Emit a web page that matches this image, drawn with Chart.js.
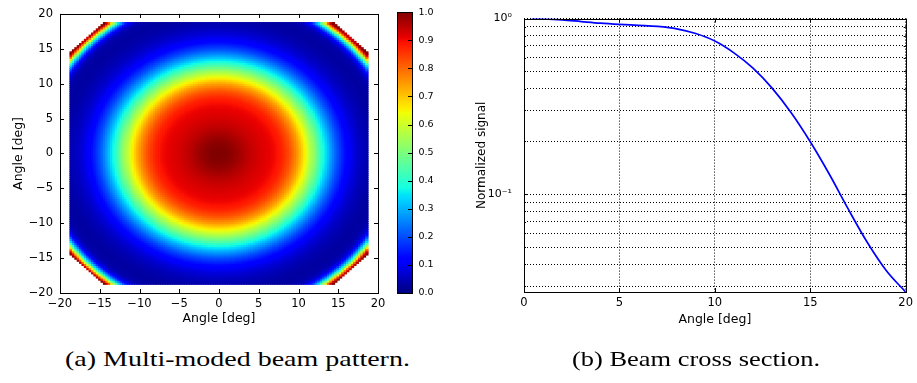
<!DOCTYPE html>
<html>
<head>
<meta charset="utf-8">
<script src="https://cdn.jsdelivr.net/npm/chart.js@4.4.0/dist/chart.umd.min.js"></script>
<style>
body { margin: 0; background: #fff; width: 917px; height: 383px; position: relative; overflow: hidden; }
.box { position: absolute; }
.cap { position: absolute; top: 349px; font-family: "Liberation Serif", serif; font-size: 21px; line-height: 1; white-space: nowrap; transform-origin: 0 0; color: #000; }
</style>
</head>
<body>
<div class="box" style="left:0;top:0;width:390px;height:340px"><canvas id="beamMap"></canvas></div>
<div class="box" style="left:380px;top:0;width:70px;height:340px"><canvas id="colorBar"></canvas></div>
<div class="box" style="left:440px;top:0;width:477px;height:340px"><canvas id="beamCut"></canvas></div>
<div class="cap" data-w="345" style="left:65px">(a) Multi-moded beam pattern.</div>
<div class="cap" data-w="248" style="left:572px">(b) Beam cross section.</div>
<script>
// cross section (panel b)
var cutAngle  = [0.4, 1, 2, 3, 4, 5, 6, 7, 8, 9, 10, 11, 12, 13, 14, 15, 16, 17, 18, 19, 20];
var cutSignal = [1.0, 0.996, 0.983, 0.962, 0.942, 0.927, 0.915, 0.902, 0.875, 0.822, 0.745, 0.638, 0.522, 0.402, 0.291, 0.199, 0.13, 0.082, 0.053, 0.0366, 0.0278];
// beam rises again in the corners of the map (panel a)
var rimAngle  = [21, 21.5, 22, 22.5, 22.9, 23.2, 23.45];
var rimSignal = [0.035, 0.06, 0.15, 0.35, 0.6, 0.85, 1.0];
// map grid and field of view
var cellStep = 0.3, cellCount = 62, cornerCut = 33.2;
var mapTicks = [-20, -15, -10, -5, 0, 5, 10, 15, 20];
var logGrid = [0.03, 0.04, 0.05, 0.06, 0.07, 0.08, 0.09, 0.1, 0.2, 0.3, 0.4, 0.5, 0.6, 0.7, 0.8, 0.9, 1];
var logLabels = {1: '10\u2070', 0.1: '10\u207B\u00B9'};

Chart.defaults.font.family = 'DejaVu Sans';
Chart.defaults.color = '#000';

function interp(v, xs, ys) {
  if (v <= xs[0]) return ys[0];
  for (var i = 1; i < xs.length; i++) {
    if (v <= xs[i]) return ys[i-1] + (ys[i] - ys[i-1]) * (v - xs[i-1]) / (xs[i] - xs[i-1]);
  }
  return ys[ys.length - 1];
}
function jet(v) {
  var r = interp(v, [0, 0.35, 0.66, 0.89, 1], [0, 0, 1, 1, 0.5]);
  var g = interp(v, [0, 0.125, 0.375, 0.64, 0.91, 1], [0, 0, 1, 1, 0, 0]);
  var b = interp(v, [0, 0.11, 0.34, 0.65, 1], [0.5, 1, 1, 0, 0]);
  return 'rgb(' + Math.round(r*255) + ',' + Math.round(g*255) + ',' + Math.round(b*255) + ')';
}
var jetStops = [0, 0.11, 0.125, 0.34, 0.35, 0.375, 0.64, 0.65, 0.66, 0.89, 0.91, 1];

var profAngle = [0].concat(cutAngle, rimAngle);
var profSignal = [1.0].concat(cutSignal, rimSignal);
var mapCells = [];
for (var i = -cellCount; i <= cellCount; i++) {
  for (var j = -cellCount; j <= cellCount; j++) {
    var x = i * cellStep, y = j * cellStep;
    if (Math.abs(x) + Math.abs(y) > cornerCut) continue;
    mapCells.push({x: x, y: y, v: interp(Math.sqrt(x*x + y*y), profAngle, profSignal)});
  }
}
var cutPoints = cutAngle.map(function (a, k) { return {x: a, y: cutSignal[k]}; });

// black frame + inward tick marks, matplotlib style
var frameTicks = {
  id: 'frameTicks',
  afterDraw: function (chart, args, opts) {
    var ctx = chart.ctx, a = chart.chartArea, sc = chart.scales;
    var px = function (v) { return Math.round(v) + 0.5; };
    ctx.save();
    ctx.strokeStyle = '#000';
    ctx.lineWidth = 1;
    ctx.setLineDash([]);
    ctx.beginPath();
    (opts.x || []).forEach(function (side) {
      sc.x.ticks.forEach(function (t) {
        var xx = px(sc.x.getPixelForValue(t.value));
        var y0 = side === 'top' ? a.top : a.bottom;
        ctx.moveTo(xx, y0);
        ctx.lineTo(xx, side === 'top' ? y0 + 4 : y0 - 4);
      });
    });
    (opts.y || []).forEach(function (side) {
      sc.y.ticks.forEach(function (t) {
        var yy = px(sc.y.getPixelForValue(t.value));
        var len = t.label === '' ? 2 : 4;
        var x0 = side === 'left' ? a.left : a.right;
        ctx.moveTo(x0, yy);
        ctx.lineTo(side === 'left' ? x0 + len : x0 - len, yy);
      });
    });
    ctx.stroke();
    ctx.strokeRect(px(a.left), px(a.top), Math.round(a.right) - Math.round(a.left), Math.round(a.bottom) - Math.round(a.top));
    ctx.restore();
  }
};

function minusSign(v) { return String(v).replace('-', '\u2212'); }

new Chart(document.getElementById('beamMap'), {
  type: 'scatter',
  data: {
    datasets: [{
      data: mapCells,
      pointStyle: 'rect',
      pointRadius: 2.3,
      pointBorderWidth: 0,
      pointBackgroundColor: function (c) { return jet(c.raw ? c.raw.v : 0); }
    }]
  },
  options: {
    responsive: true, maintainAspectRatio: false, animation: false, events: [],
    layout: {padding: {top: 7, right: 12, left: 0, bottom: 0}},
    plugins: {legend: {display: false}, tooltip: {enabled: false}, frameTicks: {x: ['bottom', 'top'], y: ['left', 'right']}},
    scales: {
      x: {
        min: -20, max: 20,
        afterBuildTicks: function (s) { s.ticks = mapTicks.map(function (v) { return {value: v}; }); },
        ticks: {padding: 4, font: {size: 11.5}, callback: minusSign, maxRotation: 0},
        grid: {display: false, drawTicks: false}, border: {display: false},
        title: {display: true, text: 'Angle [deg]', font: {size: 12.5}, padding: {top: 0, bottom: 13.8}},
        afterFit: function (s) { s.height = 47; }
      },
      y: {
        min: -20, max: 20,
        afterBuildTicks: function (s) { s.ticks = mapTicks.map(function (v) { return {value: v}; }); },
        ticks: {padding: 7, font: {size: 11.5}, callback: minusSign},
        grid: {display: false, drawTicks: false}, border: {display: false},
        title: {display: true, text: 'Angle [deg]', font: {size: 12.5}, padding: {top: 10.8, bottom: 0}},
        afterFit: function (s) { s.width = 60; }
      }
    }
  },
  plugins: [frameTicks]
});

new Chart(document.getElementById('colorBar'), {
  type: 'bar',
  data: {
    labels: [''],
    datasets: [{
      data: [[0, 1]],
      borderWidth: 0,
      barPercentage: 1,
      categoryPercentage: 1,
      backgroundColor: function (c) {
        var ch = c.chart;
        if (!ch.chartArea) return jet(0.5);
        var ys = ch.scales.y;
        var g = ch.ctx.createLinearGradient(0, ys.getPixelForValue(0), 0, ys.getPixelForValue(1));
        jetStops.forEach(function (s) { g.addColorStop(s, jet(s)); });
        return g;
      }
    }]
  },
  options: {
    responsive: true, maintainAspectRatio: false, animation: false, events: [],
    layout: {padding: {top: 7, right: 0, left: 17, bottom: 47}},
    plugins: {legend: {display: false}, tooltip: {enabled: false}, frameTicks: {y: ['right']}},
    scales: {
      x: {display: false},
      y: {
        position: 'right', min: 0, max: 1,
        ticks: {stepSize: 0.1, padding: 6.5, font: {size: 9.5}, callback: function (v) { return v.toFixed(1); }},
        grid: {display: false, drawTicks: false}, border: {display: false},
        afterFit: function (s) { s.width = 38; }
      }
    }
  },
  plugins: [frameTicks]
});

new Chart(document.getElementById('beamCut'), {
  type: 'line',
  data: {
    datasets: [{
      data: cutPoints,
      borderColor: '#0000ff',
      borderWidth: 1.7,
      pointRadius: 0,
      cubicInterpolationMode: 'monotone',
      fill: false
    }]
  },
  options: {
    responsive: true, maintainAspectRatio: false, animation: false, events: [],
    layout: {padding: {top: 11, right: 9, left: 0, bottom: 0}},
    plugins: {legend: {display: false}, tooltip: {enabled: false}, frameTicks: {x: ['bottom', 'top'], y: ['left', 'right']}},
    scales: {
      x: {
        type: 'linear', min: 0, max: 20,
        ticks: {stepSize: 5, padding: 4, font: {size: 11.5}, maxRotation: 0},
        grid: {color: '#000', drawTicks: false}, border: {display: false, dash: [1, 2]},
        title: {display: true, text: 'Angle [deg]', font: {size: 12.5}, padding: {top: 0, bottom: 12.8}},
        afterFit: function (s) { s.height = 48; }
      },
      y: {
        type: 'logarithmic', min: 0.0278, max: 1,
        afterBuildTicks: function (s) { s.ticks = logGrid.map(function (v) { return {value: v}; }); },
        ticks: {autoSkip: false, padding: 12, font: {size: 11}, callback: function (v) { return logLabels[v] || ''; }},
        grid: {color: '#000', drawTicks: false}, border: {display: false, dash: [1, 2]},
        title: {display: true, text: 'Normalized signal', font: {size: 12}, padding: {top: 34.8, bottom: 0}},
        afterFit: function (s) { s.width = 84; }
      }
    }
  },
  plugins: [frameTicks]
});

document.querySelectorAll('.cap').forEach(function (el) {
  el.style.transform = 'scaleX(' + (Number(el.dataset.w) / el.offsetWidth) + ')';
});
</script>
</body>
</html>
